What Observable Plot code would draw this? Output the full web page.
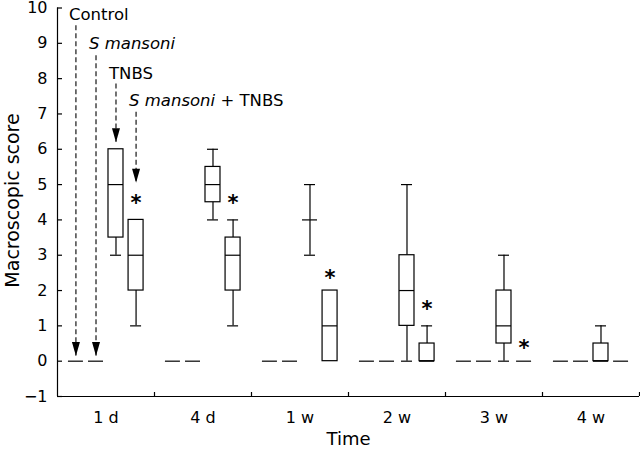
<!DOCTYPE html>
<html><head><meta charset="utf-8">
<script src="https://cdn.jsdelivr.net/npm/d3@7"></script>
<script src="https://cdn.jsdelivr.net/npm/@observablehq/plot@0.6"></script>
<style>body{margin:0;background:#fff}</style>
</head><body><div id="chart"></div>
<script>
const times = ["1 d", "4 d", "1 w", "2 w", "3 w", "4 w"];
const groups = ["Control", "S mansoni", "TNBS", "S mansoni + TNBS"];
const controlScore = [0, 0, 0, 0, 0, 0];
const mansoniScore = [0, 0, 0, 0, 0, 0];
const tnbsMin = [3, 4, 3, 0, 0, 0];
const tnbsQ1 = [3.5, 4.5, 4, 1, 0.5, 0];
const tnbsMedian = [5, 5, 4, 2, 1, 0];
const tnbsQ3 = [6, 5.5, 4, 3, 2, 0.5];
const tnbsMax = [6, 6, 5, 5, 3, 1];
const bothMin = [1, 1, 0, 0, 0, 0];
const bothQ1 = [2, 2, 0, 0, 0, 0];
const bothMedian = [3, 3, 1, 0, 0, 0];
const bothQ3 = [4, 3.5, 2, 0.5, 0, 0];
const bothMax = [4, 4, 2, 1, 0, 0];
const significance = [4.6, 4.6, 2.5, 1.6, 0.5, null];
const labelScore = [9.8, 9.0, 8.15, 7.37];
const arrowStart = [9.5, 8.65, 7.85, 7.05];
const arrowEnd = [0.15, 0.15, 6.2, 5.05];
const yTicks = [-1, 0, 1, 2, 3, 4, 5, 6, 7, 8, 9, 10];

const slot = [0.19, 0.397, 0.603, 0.81];
const rows = [];
times.forEach((t, i) => {
  rows.push({x: i + slot[0], min: controlScore[i], q1: controlScore[i], med: controlScore[i], q3: controlScore[i], max: controlScore[i]});
  rows.push({x: i + slot[1], min: mansoniScore[i], q1: mansoniScore[i], med: mansoniScore[i], q3: mansoniScore[i], max: mansoniScore[i]});
  rows.push({x: i + slot[2], min: tnbsMin[i], q1: tnbsQ1[i], med: tnbsMedian[i], q3: tnbsQ3[i], max: tnbsMax[i]});
  rows.push({x: i + slot[3], min: bothMin[i], q1: bothQ1[i], med: bothMedian[i], q3: bothQ3[i], max: bothMax[i]});
});
const stars = times.map((t, i) => ({x: i + slot[3], y: significance[i]})).filter(d => d.y != null);
const notes = groups.map((g, j) => ({text: g, x: slot[j], y: labelScore[j], y1: arrowStart[j], y2: arrowEnd[j]}));

const arrowHead = {draw(ctx) { ctx.moveTo(0, 0); ctx.lineTo(-4, -14); ctx.lineTo(4, -14); ctx.closePath(); }};
const hw = 7.5, cw = 5.5;

const chart = Plot.plot({
  width: 640, height: 449,
  marginLeft: 57, marginRight: 1, marginTop: 7.5, marginBottom: 53,
  x: {domain: [0, 6]},
  y: {domain: [-1, 10]},
  style: {fontFamily: "DejaVu Sans", fontSize: "16px", background: "white", color: "black"},
  marks: [
    Plot.axisY({ticks: yTicks, tickSize: 0, tickPadding: 10, label: null}),
    Plot.axisX({ticks: times.map((t, i) => i + 0.5), tickFormat: v => times[Math.floor(v)], tickSize: 0, tickPadding: 15, label: null}),
    Plot.ruleX([0], {y1: -1, y2: 10, stroke: "black", strokeWidth: 1.2}),
    Plot.ruleY([-1], {x1: 0, x2: 6, stroke: "black", strokeWidth: 1.2}),
    Plot.ruleY(yTicks, {x1: 0, x2: 0, insetRight: -5, stroke: "black", strokeWidth: 1.2}),
    Plot.ruleX([1, 2, 3, 4, 5, 6], {y1: -1, y2: -1, insetBottom: 4, stroke: "black", strokeWidth: 1.2}),
    Plot.ruleX(rows.filter(d => d.min < d.q1), {x: "x", y1: "min", y2: "q1", stroke: "black", strokeWidth: 1.2}),
    Plot.ruleX(rows.filter(d => d.max > d.q3), {x: "x", y1: "q3", y2: "max", stroke: "black", strokeWidth: 1.2}),
    Plot.ruleY(rows.filter(d => d.min < d.q1), {x1: "x", x2: "x", y: "min", insetLeft: -cw, insetRight: -cw, stroke: "black", strokeWidth: 1.2}),
    Plot.ruleY(rows.filter(d => d.max > d.q3), {x1: "x", x2: "x", y: "max", insetLeft: -cw, insetRight: -cw, stroke: "black", strokeWidth: 1.2}),
    Plot.rect(rows.filter(d => d.q3 > d.q1), {x1: "x", x2: "x", y1: "q1", y2: "q3", insetLeft: -hw, insetRight: -hw, fill: "white", stroke: "black", strokeWidth: 1.2}),
    Plot.ruleY(rows, {x1: "x", x2: "x", y: "med", insetLeft: -hw, insetRight: -hw, stroke: "black", strokeWidth: 1.2}),
    Plot.text(stars, {x: "x", y: "y", text: () => "*", fontSize: 21, fontWeight: "bold", dy: 5}),
    Plot.ruleX(notes, {x: "x", y1: "y1", y2: "y2", stroke: "black", strokeWidth: 1.1, strokeDasharray: "5,3"}),
    Plot.dot(notes, {x: "x", y: "y2", symbol: arrowHead, fill: "black", stroke: "none"}),
    Plot.text(notes, {x: "x", y: "y", text: "text", textAnchor: "start", dx: -7, fontSize: 16.5}),
    Plot.text(["Time"], {x: 3, y: -1, dy: 43, fontSize: 18}),
    Plot.text(["Macroscopic score"], {x: 0, y: 4.55, dx: -45, rotate: -90, fontSize: 19})
  ]
});

chart.querySelectorAll("text").forEach(el => {
  const s = el.textContent;
  if (s === "S mansoni") {
    el.setAttribute("font-style", "italic");
  } else if (s === "S mansoni + TNBS") {
    el.textContent = "";
    const ns = "http://www.w3.org/2000/svg";
    const a = document.createElementNS(ns, "tspan");
    a.setAttribute("font-style", "italic");
    a.textContent = "S mansoni";
    const b = document.createElementNS(ns, "tspan");
    b.textContent = " + TNBS";
    el.appendChild(a); el.appendChild(b);
  }
});
document.getElementById("chart").appendChild(chart);
</script>
</body></html>
